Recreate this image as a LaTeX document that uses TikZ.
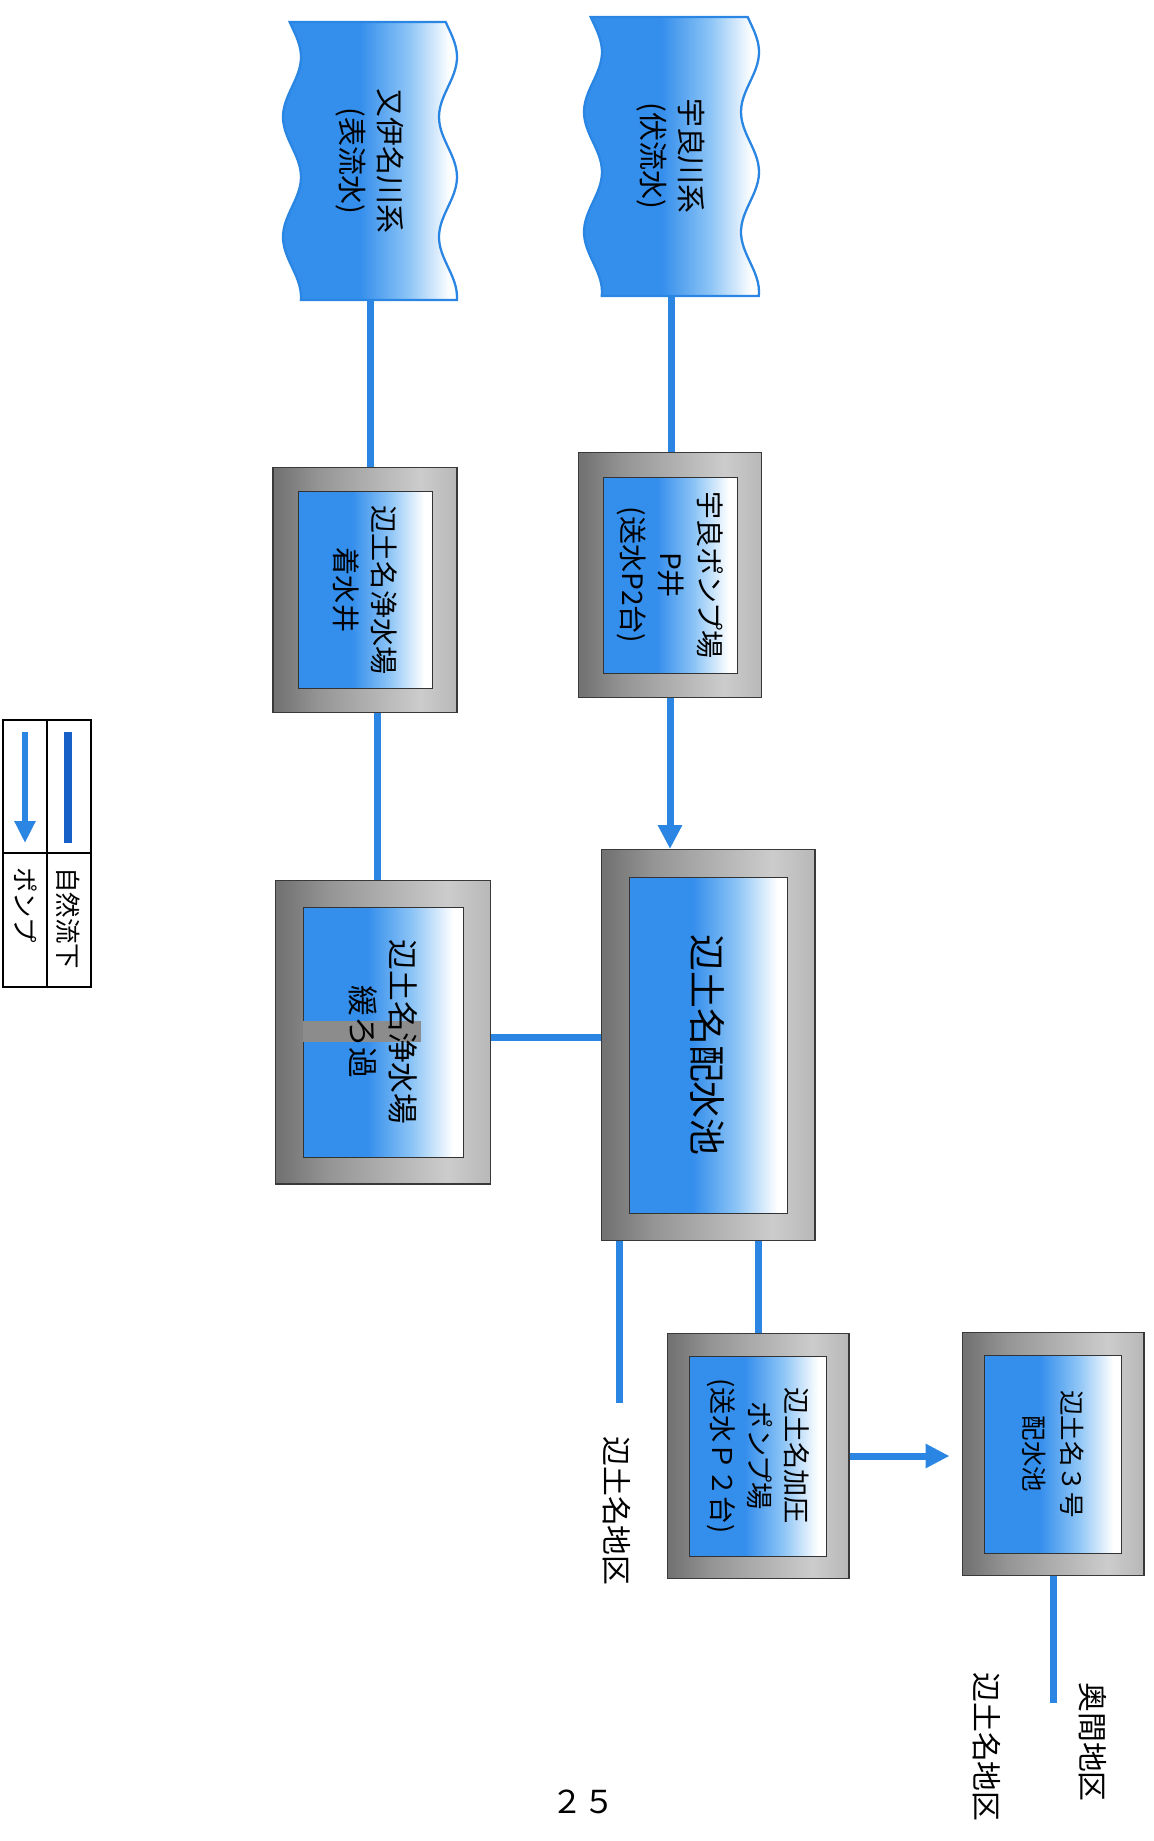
\documentclass[tikz,border=0pt]{standalone}
\usepackage{fontspec}
\newfontfamily\jp{Noto Sans CJK JP}
\usetikzlibrary{arrows.meta}

\definecolor{pipe}{RGB}{42,134,226}
\definecolor{deep}{RGB}{22,96,200}
\definecolor{water}{RGB}{52,142,236}
\definecolor{waterlt}{RGB}{140,196,246}
\definecolor{metalA}{gray}{0.45}
\definecolor{metalB}{gray}{0.58}
\definecolor{metalC}{gray}{0.80}
\definecolor{metalD}{gray}{0.72}
\definecolor{bar}{gray}{0.55}

\pgfdeclarehorizontalshading{riverfill}{100bp}{color(0bp)=(water); color(47bp)=(water); color(61bp)=(waterlt); color(73bp)=(white); color(100bp)=(white)}
\pgfdeclarehorizontalshading{poolfill}{100bp}{color(0bp)=(water); color(45bp)=(water); color(59bp)=(waterlt); color(72bp)=(white); color(100bp)=(white)}
\pgfdeclarehorizontalshading{metalfill}{100bp}{color(0bp)=(metalA); color(26bp)=(metalA); color(37bp)=(metalB); color(65bp)=(metalC); color(75bp)=(metalD); color(100bp)=(metalD)}

\begin{document}
\begin{tikzpicture}[x=0.02cm,y=-0.02cm,
    frame/.style={draw=gray!45!black,line width=.6pt,shading=metalfill},
    pool/.style={draw=gray!40!black,line width=.5pt,shading=poolfill,rotate=-90,
                 align=center,inner sep=0pt,font=\jp\fontsize{16}{22}\selectfont},
    river/.style={draw=pipe,line width=1.3pt,shading=riverfill},
    riverbox/.style={minimum width=3.12cm,minimum height=5.56cm,inner sep=0pt},
    rivertext/.style={rotate=-90,align=center,font=\jp\fontsize{16.5}{22}\selectfont},
    zone/.style={rotate=-90,font=\jp\fontsize{17}{17}\selectfont},
    keytext/.style={rotate=-90,anchor=west,font=\jp\fontsize{14.5}{14.5}\selectfont},
    flow/.style={draw=pipe,line width=.14cm},
    pump/.style={flow,-{Triangle[length=.48cm,width=.46cm]}}]

  \useasboundingbox (0,0) rectangle (1153,1841);

  % rivers
  \node[riverbox] (rivA) at (370,161) {};
  \draw[river] plot[domain=22:300,samples=60] ({292+9*cos(3*(\x-57))},\x)
    -- plot[domain=300:22,samples=60] ({448+9*cos(3*(\x-57))},\x) -- cycle;
  \node[rivertext] at (rivA) {又伊名川系\\(表流水)};

  \node[riverbox] (rivB) at (671,156) {};
  \draw[river] plot[domain=17:296,samples=60] ({593+9*cos(3*(\x-52))},\x)
    -- plot[domain=296:17,samples=60] ({750+9*cos(3*(\x-52))},\x) -- cycle;
  \node[rivertext] at (rivB) {宇良川系\\(伏流水)};

  % plants and pools
  \node[frame,minimum width=3.68cm,minimum height=4.90cm] (chak) at (365,590) {};
  \node[pool,minimum width=3.94cm,minimum height=2.68cm] (chak in) at (chak) {辺土名浄水場\\着水井};

  \node[frame,minimum width=3.66cm,minimum height=4.90cm] (ura) at (670,575) {};
  \node[pool,minimum width=3.92cm,minimum height=2.68cm] (ura in) at (ura) {宇良ポンプ場\\P井\\(送水P2台)};

  \node[frame,minimum width=4.30cm,minimum height=6.08cm] (slow) at (383,1032) {};
  \node[pool,minimum width=5.00cm,minimum height=3.20cm] (slow in) at (slow) {};
  \fill[bar] (303,1021) rectangle (421,1042);
  \node[rotate=-90,align=center,font=\jp\fontsize{17.5}{23}\selectfont] (slow txt) at (slow) {辺土名浄水場\\緩ろ過};

  \node[frame,minimum width=4.28cm,minimum height=7.82cm] (big) at (708,1045) {};
  \node[pool,minimum width=6.72cm,minimum height=3.16cm,font=\jp\fontsize{21}{21}\selectfont] (big in) at (big) {辺土名配水池};

  \node[frame,minimum width=3.64cm,minimum height=4.90cm] (kaatsu) at (758,1456) {};
  \node[pool,minimum width=4.00cm,minimum height=2.74cm,font=\jp\fontsize{15.5}{21}\selectfont] (kaatsu in) at (kaatsu) {辺土名加圧\\ポンプ場\\(送水Ｐ２台)};

  \node[frame,minimum width=3.64cm,minimum height=4.86cm] (no3) at (1053,1454) {};
  \node[pool,minimum width=3.96cm,minimum height=2.74cm,font=\jp\fontsize{14.5}{21.5}\selectfont] (no3 in) at (no3) {辺土名３号\\配水池};

  % districts
  \node[zone] (zoneA) at (617,1511) {辺土名地区};
  \node[zone] (zoneB) at (1093,1742) {奥間地区};
  \node[zone] (zoneC) at (987,1747) {辺土名地区};
  \coordinate (endA) at (619,1403);
  \coordinate (endB) at (1054,1703);

  % pipes
  \draw[flow] (rivA.south) -- (rivA.south |- chak.north);
  \draw[flow] (rivB.south) -- (rivB.south |- ura.north);
  \draw[flow] ([xshift=.24cm]chak.south) -- ([xshift=.24cm]chak.south |- slow.north);
  \draw[pump] (ura.south) -- (ura.south |- big.north);
  \draw[flow] ([yshift=-.1cm]slow.east) -- ([yshift=-.1cm]slow.east -| big.west);
  \draw[flow] (big.south -| endA) -- (endA);
  \draw[flow] (kaatsu.north |- big.south) -- (kaatsu.north);
  \draw[pump] (kaatsu.east) -- ([xshift=-.24cm]kaatsu.east -| no3.west);
  \draw[flow] (no3.south) -- (no3.south |- endB);

  % key
  \draw[line width=1.1pt] (3,720) rectangle (91,987) (47,720) -- (47,987) (3,853) -- (91,853);
  \coordinate (natA) at (68,732);
  \coordinate (natB) at (68,843);
  \coordinate (pmpA) at (25,732);
  \coordinate (pmpB) at (25,843);
  \draw[flow,draw=deep,line width=.15cm] (natA) -- (natB);
  \draw[flow,line width=.12cm,-{Triangle[length=.44cm,width=.40cm]}] (pmpA) -- (pmpB);
  \node[keytext] (natural) at (68,861) {自然流下};
  \node[keytext] (pumping) at (26,861) {ポンプ};

  \node[font=\jp\fontsize{18}{18}\selectfont] (page) at (583,1802) {２５};
\end{tikzpicture}
\end{document}
